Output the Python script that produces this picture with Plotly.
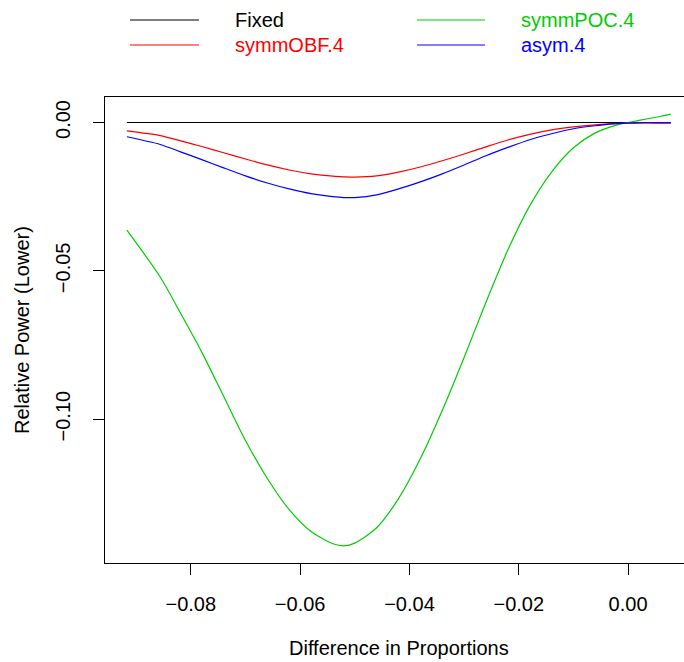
import plotly.graph_objects as go

# ---- data ----
diff = [-0.0917, -0.0856, -0.082, -0.078, -0.074, -0.070, -0.066, -0.062, -0.058,
        -0.054, -0.052, -0.050, -0.046, -0.042, -0.038, -0.034, -0.030, -0.026,
        -0.022, -0.018, -0.014, -0.010, -0.006, -0.002, 0.002, 0.006, 0.0078]

fixed = [0.0] * len(diff)

symmOBF = [-0.0028, -0.0044, -0.0061, -0.0081, -0.0102, -0.0123, -0.0143, -0.0160, -0.0173,
           -0.0181, -0.0183, -0.0184, -0.0180, -0.0167, -0.0150, -0.0129, -0.0106, -0.0082,
           -0.0059, -0.0040, -0.0025, -0.0015, -0.0008, -0.0003, -0.0001, -0.0001, -0.0001]

symmPOC = [-0.0363, -0.0521, -0.0639, -0.0774, -0.0923, -0.1072, -0.1200, -0.1305, -0.1379,
           -0.1420, -0.1427, -0.1418, -0.1366, -0.1268, -0.1133, -0.0971, -0.0792, -0.0606,
           -0.0430, -0.0281, -0.0167, -0.0085, -0.0035, -0.0008, 0.0007, 0.0021, 0.0028]

asym = [-0.0048, -0.0074, -0.0098, -0.0125, -0.0153, -0.0180, -0.0204, -0.0224, -0.0240,
        -0.0250, -0.0253, -0.0253, -0.0244, -0.0224, -0.0200, -0.0173, -0.0143, -0.0112,
        -0.0084, -0.0058, -0.0038, -0.0021, -0.0011, -0.0004, -0.0001, -0.0001, -0.0001]

series_names = ["Fixed", "symmOBF.4", "symmPOC.4", "asym.4"]
series_vals = [fixed, symmOBF, symmPOC, asym]
series_colors = ["#000000", "#FF0000", "#00CD00", "#0000FF"]

x_ticks = [-0.08, -0.06, -0.04, -0.02, 0.00]
x_ticktext = ["\u22120.08", "\u22120.06", "\u22120.04", "\u22120.02", "0.00"]
y_ticks = [0.00, -0.05, -0.10]
y_ticktext = ["0.00", "\u22120.05", "\u22120.10"]

FONT = "Liberation Sans, Arial, Helvetica, sans-serif"

fig = go.Figure()
for name, vals, col in zip(series_names, series_vals, series_colors):
    fig.add_trace(go.Scatter(x=diff, y=vals, mode="lines", name=name,
                             line=dict(color=col, width=1.2, shape="spline", smoothing=0.8),
                             showlegend=False))

# legend drawn manually (two columns, no box)
L, W, T, B = 105, 579, 97, 563
def px_x(p):
    return (p - L) / W
def px_y(p):
    return (B - p) / (B - T)

legend_pos = [(130, 199, 233, 20), (130, 199, 233, 45), (417, 485, 519, 20), (417, 485, 519, 45)]
for i, (x0, x1, xt, yy) in enumerate(legend_pos):
    fig.add_shape(type="line", xref="paper", yref="paper",
                  x0=px_x(x0), x1=px_x(x1), y0=px_y(yy), y1=px_y(yy),
                  line=dict(color=series_colors[i], width=1.2))
    fig.add_annotation(xref="paper", yref="paper", x=px_x(xt), y=px_y(yy),
                       text=series_names[i], showarrow=False, xanchor="left", yanchor="middle",
                       font=dict(family=FONT, size=20, color=series_colors[i]))

# axis titles
fig.add_annotation(xref="paper", yref="paper", x=px_x((287 + 511) / 2), y=px_y(648),
                   text="Difference in Proportions", showarrow=False,
                   xanchor="center", yanchor="middle",
                   font=dict(family=FONT, size=20, color="black"))
fig.add_annotation(xref="paper", yref="paper", x=px_x(22), y=0.5,
                   text="Relative Power (Lower)", showarrow=False, textangle=-90,
                   xanchor="center", yanchor="middle",
                   font=dict(family=FONT, size=20, color="black"))

fig.update_layout(
    width=684, height=662,
    margin=dict(l=105, r=0, t=97, b=99),
    paper_bgcolor="white", plot_bgcolor="white",
    font=dict(family=FONT, size=20, color="black"),
    xaxis=dict(range=[-0.0957, 0.01023], tickvals=x_ticks, ticktext=x_ticktext,
               showgrid=False, zeroline=False, showline=True, mirror=True,
               linecolor="black", linewidth=1, ticks="outside", ticklen=11,
               tickcolor="black", tickwidth=1, tickfont=dict(size=20),
               ticklabelstandoff=12),
    yaxis=dict(range=[-0.1485, 0.0086], tickvals=y_ticks, ticktext=y_ticktext,
               showgrid=False, zeroline=False, showline=True, mirror=False,
               linecolor="black", linewidth=1, ticks="outside", ticklen=11,
               tickcolor="black", tickwidth=1, tickangle=-90, tickfont=dict(size=20),
               ticklabelstandoff=15),
)

fig.write_html("out.html")
